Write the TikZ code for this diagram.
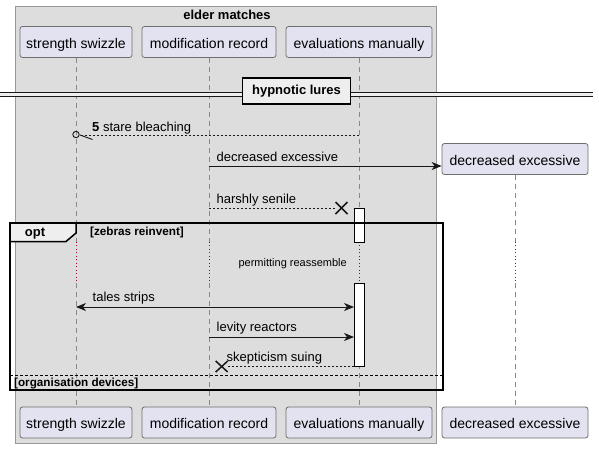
\documentclass[tikz,border=0pt]{standalone}
\usepackage{fontspec}
\setmainfont{Liberation Sans}
\usetikzlibrary{arrows.meta}
\definecolor{partfill}{HTML}{E2E2F0}
\definecolor{partborder}{HTML}{6E6E6E}
\definecolor{groupfill}{HTML}{DDDDDD}
\definecolor{groupborder}{HTML}{999999}
\definecolor{lifecol}{HTML}{888888}
\definecolor{delaycol}{HTML}{A80036}
\definecolor{tabfill}{HTML}{EEEEEE}
\definecolor{inkcol}{HTML}{181818}
\begin{document}
\begin{tikzpicture}[x=1pt,y=-1pt,
  part/.style={draw=partborder, fill=partfill, rounded corners=2.5pt, line width=0.8pt,
    minimum height=31pt, inner sep=0pt, text height=12pt, text depth=0pt,
    font=\fontsize{14}{16}\selectfont},
  life/.style={draw=lifecol, line width=0.7pt, dash pattern=on 5pt off 4pt},
  delayline/.style={draw=delaycol, line width=0.8pt, dash pattern=on 1pt off 2.5pt},
  msg/.style={draw=inkcol, line width=0.9pt, -{Stealth[length=10pt,width=8pt,inset=3pt]}},
  bimsg/.style={draw=inkcol, line width=0.9pt, {Stealth[length=10pt,width=8pt,inset=3pt]}-{Stealth[length=10pt,width=8pt,inset=3pt]}},
  msgdash/.style={draw=inkcol, line width=0.8pt, dash pattern=on 2pt off 2pt},
  lbl/.style={inner sep=0pt, anchor=base west, font=\fontsize{13}{15}\selectfont},
  small/.style={inner sep=0pt, anchor=base west, font=\fontsize{11}{13}\selectfont},
  guard/.style={inner sep=0pt, anchor=base west, font=\bfseries\fontsize{11.7}{13}\selectfont},
  cross/.style={draw=inkcol, line width=1.5pt},
  actbar/.style={draw=black, fill=white, line width=0.9pt},
  framebox/.style={draw=black, line width=1.5pt}
]
\useasboundingbox (0,0) rectangle (599,448);
\fill[white] (0,0) rectangle (599,448);

% group box
\draw[fill=groupfill, draw=groupborder, line width=0.8pt] (15,6) rectangle (436,443);
\node[inner sep=0pt, anchor=base, font=\bfseries\fontsize{13}{15}\selectfont] (gtitle) at (227,19) {elder matches};

% participants
\node[part, minimum width=112pt] (ssT) at (76,42) {strength swizzle};
\node[part, minimum width=134pt] (mrT) at (209,42) {modification record};
\node[part, minimum width=146pt] (emT) at (359,42) {evaluations manually};
\node[part, minimum width=146pt] (dex) at (515,159) {decreased excessive};
\node[part, minimum width=112pt] (ssB) at (76,422.5) {strength swizzle};
\node[part, minimum width=134pt] (mrB) at (209,422.5) {modification record};
\node[part, minimum width=146pt] (emB) at (359,422.5) {evaluations manually};
\node[part, minimum width=146pt] (dexB) at (515,422.5) {decreased excessive};

% lifelines
\coordinate (dA) at (0,241.5);
\coordinate (dB) at (0,283);
\foreach \t/\b in {ssT/ssB, mrT/mrB, emT/emB}{
  \draw[life] (\t.south) -- (\t.south |- dA);
  \draw[life] (\b.north |- dB) -- (\b.north);
  \draw[delayline] (\t.south |- dA) -- (\t.south |- dB);
}
\draw[life] (dex.south) -- (dex.south |- dA);
\draw[life] (dexB.north |- dB) -- (dexB.north);
\draw[delayline] (dex.south |- dA) -- (dex.south |- dB);

% divider
\fill[tabfill] (0,92.3) rectangle (593,96.7);
\draw[inkcol, line width=0.9pt] (0,92.3) -- (593,92.3) (0,96.7) -- (593,96.7);
\node[draw=black, fill=tabfill, line width=1.5pt, minimum width=108pt, minimum height=26pt,
  inner sep=0pt, text height=9.5pt, text depth=2.5pt, font=\bfseries\fontsize{13}{15}\selectfont] (div) at (296.5,91) {hypnotic lures};

% message 1: stare bleaching
\coordinate (m1s) at (359,135);
\coordinate (m1e) at (80,135);
\draw[msgdash] (m1s) -- (m1e);
\draw[inkcol, line width=0.9pt] (76,134.5) circle (3.2pt);
\draw[inkcol, line width=0.9pt] (m1e) -- ++(12.5,4.5);
\node[lbl] (l1) at (92,131) {\textbf{5} stare bleaching};

% message 2: decreased excessive (create)
\coordinate (m2s) at (209,166);
\draw[msg] (m2s) -- (m2s -| dex.west);
\node[lbl] (l2) at (216.5,161) {decreased excessive};

% message 3: harshly senile
\coordinate (m3s) at (209,208);
\coordinate (m3x) at (341.5,208);
\draw[msgdash] (m3s) -- ([xshift=-5pt]m3x);
\draw[cross] ([xshift=-6pt,yshift=-6pt]m3x) -- ([xshift=6pt,yshift=6pt]m3x)
             ([xshift=-6pt,yshift=6pt]m3x) -- ([xshift=6pt,yshift=-6pt]m3x);
\node[lbl] (l3) at (216.5,203) {harshly senile};

% activation bars
\draw[actbar] (354,208) rectangle (364,242);
\draw[actbar] (354,283) rectangle (364,366);
\coordinate (barL1) at (354,307);
\coordinate (barL2) at (354,337);
\coordinate (barL3) at (354,366);

% delay text
\node[small, anchor=base east] (delay) at (347,266) {permitting reassemble};

% tales strips
\coordinate (m4a) at (76,307);
\draw[bimsg] (m4a) -- (barL1);
\node[lbl] (l4) at (92.5,301.5) {tales strips};

% levity reactors
\coordinate (m5a) at (209,337);
\draw[msg] (m5a) -- (barL2);
\node[lbl] (l5) at (216.5,331.5) {levity reactors};

% skepticism suing
\coordinate (m6x) at (221.7,366.5);
\draw[msgdash] (barL3) -- ([xshift=5pt]m6x |- barL3);
\draw[cross] ([xshift=-6pt,yshift=-5.5pt]m6x) -- ([xshift=6pt,yshift=5.5pt]m6x)
             ([xshift=-6pt,yshift=5.5pt]m6x) -- ([xshift=6pt,yshift=-5.5pt]m6x);
\node[lbl] (l6) at (226.5,361.5) {skepticism suing};

% opt frame
\draw[framebox] (10,223) rectangle (443,390);
\draw[framebox, fill=tabfill] (10,223) -- (76,223) -- (76,233) -- (66,241.5) -- (10,241.5) -- cycle;
\node[inner sep=0pt, anchor=base, font=\bfseries\fontsize{13}{15}\selectfont] (opt) at (35,236.5) {opt};
\node[guard] (g1) at (90,235) {[zebras reinvent]};
\draw[black, line width=0.8pt, dash pattern=on 3pt off 2pt] (10,375) -- (443,375);
\node[guard] (g2) at (14,386.5) {[organisation devices]};
\end{tikzpicture}
\end{document}
